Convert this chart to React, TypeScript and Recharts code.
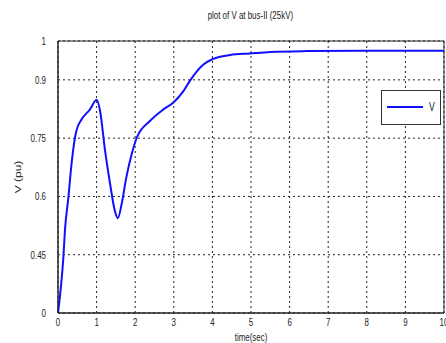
import { CartesianGrid, Line, LineChart, ReferenceArea, XAxis, YAxis } from 'recharts';

const time = [0, 0.05, 0.14, 0.18, 0.27, 0.35, 0.44, 0.48, 0.61, 0.83, 1.0, 1.09, 1.22, 1.35, 1.48, 1.55, 1.65, 1.77, 1.91, 2.04, 2.38, 2.73, 2.99, 3.25, 3.42, 3.76, 4.02, 4.46, 4.97, 5.5, 6.44, 8, 10];
const voltage = [0.3, 0.342, 0.445, 0.513, 0.598, 0.683, 0.751, 0.77, 0.798, 0.824, 0.849, 0.82, 0.717, 0.632, 0.56, 0.544, 0.581, 0.649, 0.709, 0.751, 0.794, 0.824, 0.842, 0.871, 0.898, 0.939, 0.954, 0.964, 0.968, 0.972, 0.974, 0.975, 0.975];

const xTicks = [0, 1, 2, 3, 4, 5, 6, 7, 8, 9, 10];
const yTicks = [0.3, 0.45, 0.6, 0.75, 0.9, 1];
const yTickLabels = ['0', '0.45', '0.6', '0.75', '0.9', '1'];

const data = time.map((t, i) => ({ t, V: voltage[i] }));

const FONT = '"Liberation Sans", Arial, sans-serif';
const squeeze = 0.72;

function XTick({ x, y, payload }: any) {
  return (
    <text transform={`translate(${x} ${y + 5}) scale(${squeeze} 1)`} textAnchor="middle" fontSize={11} fontFamily={FONT} fill="#222">
      {payload.value}
    </text>
  );
}

function YTick({ x, y, payload }: any) {
  const idx = yTicks.indexOf(payload.value);
  return (
    <text transform={`translate(${x - 4} ${y + 4}) scale(${squeeze} 1)`} textAnchor="end" fontSize={11} fontFamily={FONT} fill="#222">
      {idx >= 0 ? yTickLabels[idx] : payload.value}
    </text>
  );
}

function LegendBox() {
  return (
    <div style={{ position: 'absolute', left: 381, top: 90, width: 60, height: 35, border: '1px solid #333', background: '#fff', boxSizing: 'border-box' }}>
      <div style={{ position: 'absolute', left: 5, top: 15, width: 36, height: 2, background: '#1010ff' }} />
      <div style={{ position: 'absolute', left: 46, top: 9, fontSize: 12, fontFamily: FONT, color: '#222', transform: `scaleX(${squeeze})`, lineHeight: '14px' }}>V</div>
    </div>
  );
}

export default function App() {
  return (
    <div style={{ position: 'absolute', left: 0, top: 0, width: 446, height: 343, background: '#fff', fontFamily: FONT, overflow: 'hidden' }}>
      <LineChart width={446} height={343} data={data} margin={{ top: 41, right: 2, bottom: 0, left: 0 }}>
        <CartesianGrid stroke="#222" strokeDasharray="2 3" />
        <XAxis
          dataKey="t"
          type="number"
          domain={[0, 10]}
          ticks={xTicks}
          height={30}
          tick={<XTick />}
          tickLine={false}
          axisLine={{ stroke: '#222' }}
          interval={0}
        />
        <YAxis
          type="number"
          domain={[0.3, 1]}
          ticks={yTicks}
          width={58}
          tick={<YTick />}
          tickLine={false}
          axisLine={{ stroke: '#222' }}
          interval={0}
          allowDataOverflow
        />
        <ReferenceArea x1={0} x2={10} y1={0.3} y2={1} fill="none" stroke="#222" strokeWidth={1} />
        <Line type="monotone" dataKey="V" stroke="#1010ff" strokeWidth={2} dot={false} isAnimationActive={false} />
      </LineChart>
      <div style={{ position: 'absolute', left: 0, width: 501, top: 9, textAlign: 'center', fontSize: 11, lineHeight: '13px', color: '#222', transform: `scaleX(${squeeze})`, transformOrigin: '250px 0' }}>
        plot of V at bus-II (25kV)
      </div>
      <div style={{ position: 'absolute', left: 251, top: 331, fontSize: 11, lineHeight: '12px', color: '#222', transform: `translateX(-50%) scaleX(${squeeze})`, whiteSpace: 'nowrap' }}>
        time(sec)
      </div>
      <div style={{ position: 'absolute', left: 18, top: 177, fontSize: 12, lineHeight: '12px', color: '#222', transform: 'translate(-50%, -50%) rotate(-90deg) scaleY(0.75)', whiteSpace: 'nowrap' }}>
        V (pu)
      </div>
      <LegendBox />
    </div>
  );
}
